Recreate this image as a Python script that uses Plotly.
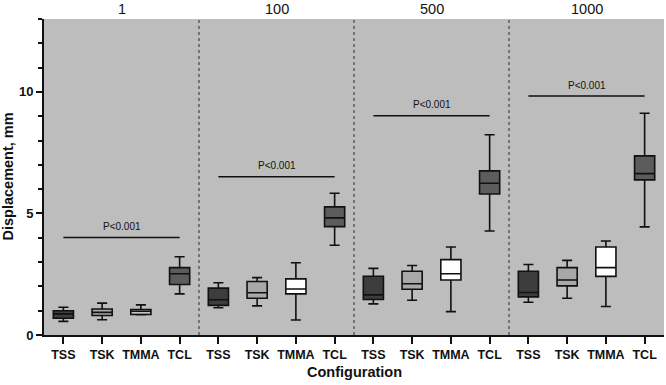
import plotly.graph_objects as go

groups = ["1", "100", "500", "1000"]
configs = ["TSS", "TSK", "TMMA", "TCL"]

# stats per config, one value per group (1, 100, 500, 1000)
lower = {"TSS": [0.56, 1.12, 1.28, 1.35],
         "TSK": [0.63, 1.20, 1.43, 1.51],
         "TMMA": [0.83, 0.62, 0.96, 1.17],
         "TCL": [1.69, 3.69, 4.28, 4.45]}
q1 = {"TSS": [0.69, 1.22, 1.46, 1.57],
      "TSK": [0.80, 1.51, 1.88, 2.02],
      "TMMA": [0.85, 1.69, 2.26, 2.41],
      "TCL": [2.08, 4.46, 5.80, 6.38]}
median = {"TSS": [0.87, 1.45, 1.65, 1.75],
          "TSK": [0.93, 1.74, 2.11, 2.26],
          "TMMA": [0.97, 1.89, 2.52, 2.77],
          "TCL": [2.52, 4.82, 6.24, 6.64]}
q3 = {"TSS": [1.00, 1.93, 2.42, 2.62],
      "TSK": [1.07, 2.20, 2.62, 2.77],
      "TMMA": [1.05, 2.31, 3.10, 3.62],
      "TCL": [2.77, 5.27, 6.75, 7.37]}
upper = {"TSS": [1.14, 2.15, 2.74, 2.90],
         "TSK": [1.31, 2.36, 2.86, 3.07],
         "TMMA": [1.24, 2.97, 3.62, 3.87],
         "TCL": [3.22, 5.83, 8.24, 9.12]}
p_line_y = [4.01, 6.51, 9.02, 9.83]
p_text = "P<0.001"

colors = {"TSS": "#3d3d3d", "TSK": "#a8a8a8", "TMMA": "#ffffff", "TCL": "#5c5c5c"}
FONT = "Liberation Sans, Arial, sans-serif"
INK = "#111111"

fig = go.Figure()
ng = len(groups)
nc = len(configs)
for ci, c in enumerate(configs):
    xs = [gi * nc + ci for gi in range(ng)]
    fig.add_trace(go.Box(
        x=xs, q1=q1[c], median=median[c], q3=q3[c],
        lowerfence=lower[c], upperfence=upper[c],
        fillcolor=colors[c], line=dict(color=INK, width=1.6),
        width=0.52, whiskerwidth=0.5, boxpoints=False, name=c,
        showlegend=False, hoverinfo="skip"))

shapes = []
annotations = []
for gi in range(ng):
    x0 = gi * nc
    x1 = gi * nc + nc - 1
    shapes.append(dict(type="line", xref="x", yref="y", x0=x0, x1=x1,
                       y0=p_line_y[gi], y1=p_line_y[gi],
                       line=dict(color=INK, width=1.6)))
    annotations.append(dict(x=(x0 + x1) / 2, y=p_line_y[gi], xref="x", yref="y",
                            text=p_text, showarrow=False, yanchor="middle", yshift=11,
                            font=dict(family=FONT, size=10, color=INK)))
    annotations.append(dict(x=gi * nc + (nc - 1) / 2, y=1, xref="x", yref="paper",
                            text=groups[gi], showarrow=False, yanchor="middle", yshift=10.5,
                            font=dict(family=FONT, size=14.5, color=INK)))
    if gi > 0:
        xs = gi * nc - 0.5
        shapes.append(dict(type="line", xref="x", yref="paper", x0=xs, x1=xs,
                           y0=0, y1=1, line=dict(color="#2a2a2a", width=1, dash="dot")))

annotations.append(dict(x=0.5, y=0, xref="paper", yref="paper", text="<b>Configuration</b>",
                        showarrow=False, yanchor="middle", xanchor="center", yshift=-37,
                        font=dict(family=FONT, size=14.5, color=INK)))
annotations.append(dict(x=0, y=0.5, xref="paper", yref="paper", text="<b>Displacement, mm</b>",
                        showarrow=False, yanchor="middle", xanchor="center", xshift=-36.5,
                        textangle=-90, font=dict(family=FONT, size=14.5, color=INK)))

tickvals = [gi * nc + ci for gi in range(ng) for ci in range(nc)]
ticktext = ["<b>" + c + "</b>" for gi in range(ng) for c in configs]

fig.update_layout(
    width=666, height=385,
    margin=dict(l=44, r=2, t=19, b=50),
    paper_bgcolor="white", plot_bgcolor="#bdbdbd",
    boxmode="overlay",
    shapes=shapes, annotations=annotations,
    font=dict(family=FONT, color=INK),
    xaxis=dict(range=[-0.5, ng * nc - 0.5], tickvals=tickvals, ticktext=ticktext,
               ticks="outside", ticklen=7, tickwidth=1.5, tickcolor=INK,
               showline=True, linecolor=INK, linewidth=2, showgrid=False,
               zeroline=False,
               tickfont=dict(family=FONT, size=12.5, color=INK)),
    yaxis=dict(range=[0, 13], tickvals=[0, 5, 10], ticktext=["<b>0</b>", "<b>5</b>", "<b>10</b>"],
               ticks="outside", ticklen=6,
               tickwidth=1.5, tickcolor=INK,
               minor=dict(dtick=1, ticks="outside", ticklen=4, tickcolor=INK, showgrid=False),
               showline=True, linecolor=INK, linewidth=2, showgrid=False,
               zeroline=False,
               tickfont=dict(family=FONT, size=13, color=INK)),
)

fig.write_html("out.html", config={"displayModeBar": False},
               post_script="document.body.style.margin='0';")
